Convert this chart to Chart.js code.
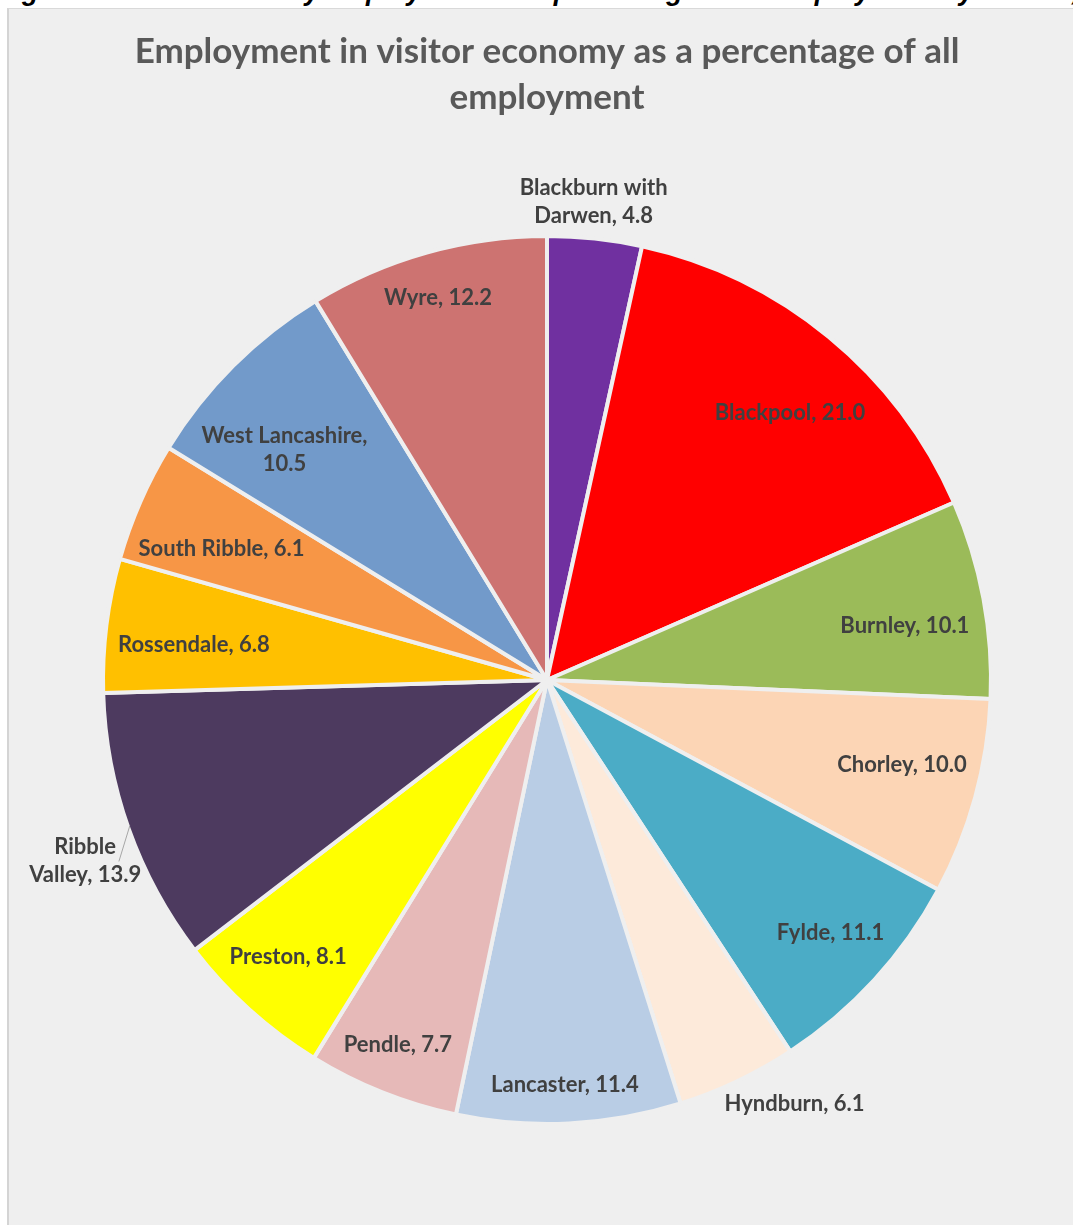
<!DOCTYPE html>
<html>
<head>
<meta charset="utf-8">
<script src="https://cdn.jsdelivr.net/npm/chart.js@4/dist/chart.umd.min.js"></script>
<style>
  html, body { margin: 0; padding: 0; background: #ffffff; width: 1073px; height: 1225px; overflow: hidden; position: relative; }
  #caption { position: absolute; left: -2px; top: -22px; font: italic bold 27px "Liberation Sans", Arial, sans-serif; line-height: 27px; color: #000; white-space: nowrap; }
  #box { position: absolute; left: 7px; top: 8px; width: 1100px; height: 1250px; background: #efefef; border-left: 2px solid #d4d4d4; border-top: 1px solid #d9d9d9; }
  #c { position: absolute; left: 0; top: 0; }
</style>
</head>
<body>
<div id="caption">Figure 5 Visitor economy employment as a percentage of all employment by district, 2017</div>
<div id="box"></div>
<canvas id="c" width="1073" height="1225"></canvas>
<script>
// ---- data ----
const titleLines = ["Employment in visitor economy as a percentage of all", "employment"];
const districts = ["Blackburn with Darwen", "Blackpool", "Burnley", "Chorley", "Fylde", "Hyndburn", "Lancaster", "Pendle", "Preston", "Ribble Valley", "Rossendale", "South Ribble", "West Lancashire", "Wyre"];
const shares = [4.8, 21.0, 10.1, 10.0, 11.1, 6.1, 11.4, 7.7, 8.1, 13.9, 6.8, 6.1, 10.5, 12.2];
const labelLines = [["Blackburn with", "Darwen, 4.8"], ["Blackpool, 21.0"], ["Burnley, 10.1"], ["Chorley, 10.0"], ["Fylde, 11.1"], ["Hyndburn, 6.1"], ["Lancaster, 11.4"], ["Pendle, 7.7"], ["Preston, 8.1"], ["Ribble", "Valley, 13.9"], ["Rossendale, 6.8"], ["South Ribble, 6.1"], ["West Lancashire,", "10.5"], ["Wyre, 12.2"]];

// ---- styles ----
const sliceColors = ["#7030A0", "#FF0000", "#9BBB59", "#FCD5B5", "#4BACC6", "#FDEADA", "#B9CDE5", "#E6B9B8", "#FFFF00", "#4D3A5F", "#FFC000", "#F79646", "#729ACA", "#CD7371"];
// label placement relative to each slice: [angle shift in degrees, radius factor]
const labelPlace = [[-0.6, 1.086], [2.9, 0.817], [1.9, 0.819], [-1.8, 0.826], [-0.7, 0.860], [-4.9, 1.111], [0.3, 0.916], [0.5, 0.891], [1.0, 0.857], [-1.8, 1.122], [-1.4, 0.803], [-1.7, 0.794], [-3.8, 0.790], [-0.2, 0.900]];

const textPlugin = {
  id: 'textPlugin',
  afterDatasetsDraw(chart) {
    const ctx = chart.ctx;
    const meta = chart.getDatasetMeta(0);
    ctx.save();
    // title
    ctx.fillStyle = '#595959';
    ctx.font = 'bold 35px Lato, "Open Sans", sans-serif';
    ctx.textAlign = 'center';
    ctx.textBaseline = 'middle';
    ctx.fillText(titleLines[0], 547, 52);
    ctx.fillText(titleLines[1], 547, 98);
    // labels
    ctx.font = 'bold 22px Lato, "Open Sans", sans-serif';
    ctx.fillStyle = '#404040';
    meta.data.forEach((arc, i) => {
      const p = arc.getProps(['x', 'y', 'startAngle', 'endAngle', 'outerRadius'], true);
      const R = p.outerRadius - 2;
      const mid = (p.startAngle + p.endAngle) / 2;
      const a = mid + labelPlace[i][0] * Math.PI / 180;
      const r = R * labelPlace[i][1];
      const lx = p.x + r * Math.cos(a);
      const ly = p.y + r * Math.sin(a);
      const lines = labelLines[i];
      const lh = 28;
      lines.forEach((t, k) => {
        ctx.fillText(t, lx, ly + (k - (lines.length - 1) / 2) * lh);
      });
      if (i === 9) {
        // leader line
        const a1 = mid + 0.3 * Math.PI / 180;
        const a2 = mid - 3.4 * Math.PI / 180;
        ctx.strokeStyle = '#a6a6a6';
        ctx.lineWidth = 1;
        ctx.beginPath();
        ctx.moveTo(p.x + R * Math.cos(a1), p.y + R * Math.sin(a1));
        ctx.lineTo(p.x + R * 1.052 * Math.cos(a2), p.y + R * 1.052 * Math.sin(a2));
        ctx.stroke();
      }
    });
    ctx.restore();
  }
};

new Chart(document.getElementById('c'), {
  type: 'pie',
  data: {
    labels: districts,
    datasets: [{
      data: shares,
      backgroundColor: sliceColors,
      borderColor: '#efefef',
      borderWidth: 4
    }]
  },
  options: {
    responsive: false,
    animation: false,
    radius: 444,
    layout: { padding: { left: 21, right: 0, top: 135, bottom: 0 } },
    plugins: {
      legend: { display: false },
      title: { display: false },
      tooltip: { enabled: false }
    }
  },
  plugins: [textPlugin]
});
</script>
</body>
</html>
